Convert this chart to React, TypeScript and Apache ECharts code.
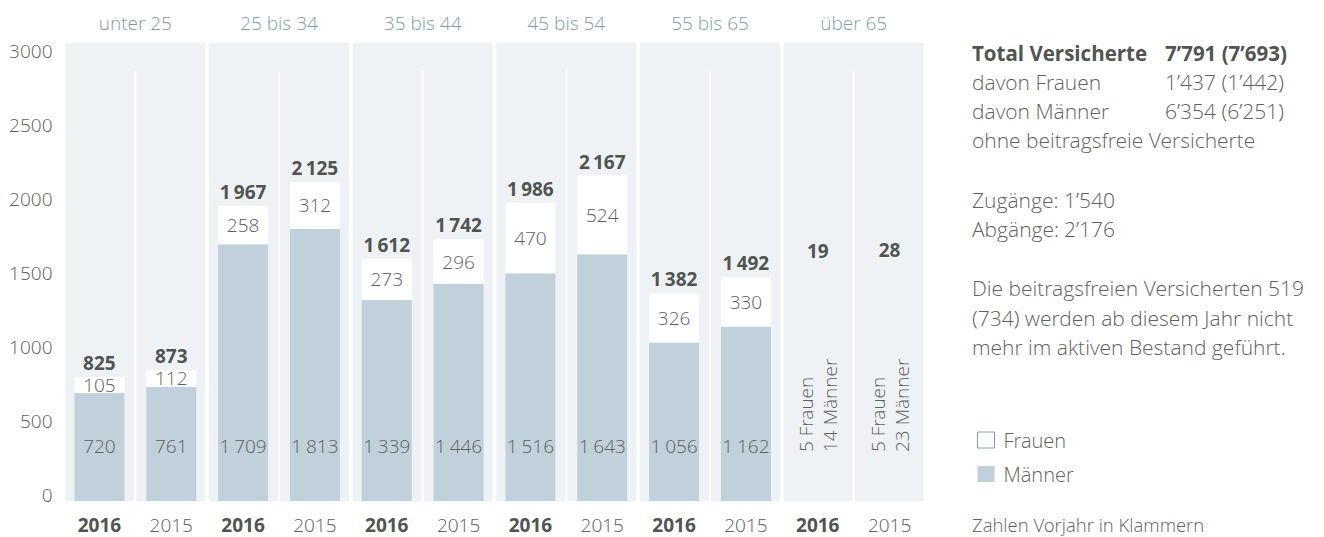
import { useEffect, useRef } from 'react';
import * as echarts from 'echarts';

// ---------- data ----------
const groups = ['unter 25', '25 bis 34', '35 bis 44', '45 bis 54', '55 bis 65', 'über 65'];
const years = ['2016', '2015'];
const men = [720, 761, 1709, 1813, 1339, 1446, 1516, 1643, 1056, 1162, 14, 23];
const women = [105, 112, 258, 312, 273, 296, 470, 524, 326, 330, 5, 5];
const totals = [825, 873, 1967, 2125, 1612, 1742, 1986, 2167, 1382, 1492, 19, 28];
const yTicks = [0, 500, 1000, 1500, 2000, 2500, 3000];
const annotatedGroup = 'über 65';

const summaryRows = [
  ['Total Versicherte', '7’791 (7’693)'],
  ['davon Frauen', '1’437 (1’442)'],
  ['davon Männer', '6’354 (6’251)'],
];
const summaryNote = 'ohne beitragsfreie Versicherte';
const flowRows = [
  ['Zugänge:', '1’540'],
  ['Abgänge:', '2’176'],
];
const noteLines = [
  'Die beitragsfreien Versicherten 519',
  '(734) werden ab diesem Jahr nicht',
  'mehr im aktiven Bestand geführt.',
];
const footer = 'Zahlen Vorjahr in Klammern';

// ---------- style ----------
const LIGHT = '"Open Sans Light", "Open Sans", "Noto Sans", sans-serif';
const BOLDF = '"Open Sans", "Noto Sans", sans-serif';
const TEXT = '#5d625d';
const BOLD = '#4f554f';
const TITLE = '#7b9cb0';
const MEN_COLOR = '#c0d1db';
const PANEL = '#eef2f4';
const AXIS_MAX = 3050;
const DIVIDER_TOP = 2870;

const categories = groups.flatMap((g) => years.map((y) => `${g}|${y}`));
const isAnnotated = (i: number) => categories[i].split('|')[0] === annotatedGroup;
const fmt = (v: number) => {
  const s = String(v);
  return s.length > 3 ? s.slice(0, s.length - 3) + '\u2009' + s.slice(s.length - 3) : s;
};

function buildOption() {
  const menData = men.map((v, i) =>
    isAnnotated(i)
      ? {
          value: v,
          itemStyle: { color: 'rgba(0,0,0,0)' },
          label: {
            rotate: 90,
            align: 'left',
            verticalAlign: 'middle',
            distance: 49,
            lineHeight: 24,
          },
        }
      : v
  );
  const womenData = women.map((v, i) =>
    isAnnotated(i)
      ? { value: v, itemStyle: { color: 'rgba(0,0,0,0)' }, label: { show: false } }
      : v
  );
  const totalData = totals.map((_, i) =>
    isAnnotated(i) ? { value: 0, label: { offset: [0, -233] } } : 0
  );

  const graphics: any[] = [];
  const X0 = 972;
  const X1 = 1165;
  const txt = (text: string, x: number, y: number, bold = false, size = 21) => ({
    type: 'text',
    x,
    y,
    silent: true,
    style: {
      text,
      fontFamily: bold ? BOLDF : LIGHT,
      fontSize: size,
      fontWeight: bold ? 'bold' : 300,
      fill: bold ? BOLD : TEXT,
      verticalAlign: 'middle',
    },
  });
  summaryRows.forEach((r, i) => {
    graphics.push(txt(r[0], X0, 53 + i * 29, i === 0, i === 0 ? 20.5 : 21));
    graphics.push(txt(r[1], X1, 53 + i * 29, i === 0, i === 0 ? 20.5 : 21));
  });
  graphics.push(txt(summaryNote, X0, 53 + 3 * 29));
  flowRows.forEach((r, i) => {
    graphics.push(txt(r[0], X0, 200 + i * 29));
    graphics.push(txt(r[1], 1064, 200 + i * 29));
  });
  noteLines.forEach((l, i) => graphics.push(txt(l, X0, 288 + i * 29.5)));
  graphics.push(txt(footer, X0, 524, false, 18.5));

  return {
    animation: false,
    backgroundColor: '#ffffff',
    textStyle: { fontFamily: LIGHT },
    grid: { left: 63.5, right: 398.5, top: 43, bottom: 36, containLabel: false },
    legend: {
      orient: 'vertical',
      left: 972,
      top: 425,
      itemWidth: 17,
      itemHeight: 16,
      itemGap: 14,
      icon: 'rect',
      selectedMode: false,
      textStyle: {
        fontFamily: LIGHT,
        fontSize: 20,
        fontWeight: 300,
        color: TEXT,
        lineHeight: 20,
        padding: [0, 0, 0, 4],
      },
      data: [
        { name: 'Frauen', itemStyle: { color: '#ffffff', borderColor: '#7e9db0', borderWidth: 1 } },
        { name: 'Männer' },
      ],
    },
    xAxis: [
      {
        type: 'category',
        data: categories,
        position: 'bottom',
        axisLine: { show: false },
        axisTick: { show: false },
        splitLine: { show: false },
        axisLabel: {
          interval: 0,
          margin: 14,
          formatter: (v: string) => {
            const y = v.split('|')[1];
            return y === years[0] ? `{b|${y}}` : `{r|${y}}`;
          },
          rich: {
            b: { fontFamily: BOLDF, fontSize: 19, fontWeight: 'bold', color: BOLD },
            r: { fontFamily: LIGHT, fontSize: 19, fontWeight: 300, color: TEXT },
          },
        },
      },
      {
        type: 'category',
        data: groups,
        position: 'top',
        axisLine: { show: false },
        axisTick: { show: false },
        splitLine: { show: false },
        axisLabel: {
          interval: 0,
          margin: 11,
          fontFamily: LIGHT,
          fontSize: 19,
          fontWeight: 300,
          color: TITLE,
        },
      },
    ],
    yAxis: [
      {
        type: 'value',
        min: 0,
        max: AXIS_MAX,
        show: false,
        splitLine: { show: false },
      },
      {
        type: 'value',
        min: -40,
        max: 3054,
        position: 'left',
        axisLine: { show: false },
        axisTick: { show: false },
        splitLine: { show: false },
        axisLabel: {
          customValues: yTicks,
          formatter: (v: number) => String(v),
          margin: 11,
          fontFamily: LIGHT,
          fontSize: 19,
          fontWeight: 300,
          color: TEXT,
        },
      },
    ],
    graphic: graphics,
    series: [
      {
        name: 'panel',
        type: 'bar',
        xAxisIndex: 1,
        yAxisIndex: 0,
        barWidth: 140,
        silent: true,
        z: 1,
        itemStyle: { color: PANEL },
        data: groups.map(() => AXIS_MAX),
      },
      {
        name: 'divider',
        type: 'custom',
        xAxisIndex: 1,
        yAxisIndex: 0,
        silent: true,
        z: 3,
        encode: { x: 0, y: 1 },
        data: groups.map((_, i) => [i, DIVIDER_TOP]),
        renderItem: (_p: any, api: any) => {
          const idx = api.value(0);
          const bottom = api.coord([idx, 0]);
          const top = api.coord([idx, api.value(1)]);
          return {
            type: 'line',
            shape: { x1: bottom[0], y1: top[1], x2: bottom[0], y2: bottom[1] },
            style: { stroke: '#ffffff', lineWidth: 2 },
          };
        },
      },
      {
        name: 'Männer',
        type: 'bar',
        stack: 'total',
        xAxisIndex: 0,
        yAxisIndex: 0,
        barWidth: 50,
        z: 4,
        itemStyle: { color: MEN_COLOR },
        label: {
          show: true,
          position: 'insideBottom',
          distance: 45,
          lineHeight: 20,
          fontFamily: LIGHT,
          fontSize: 19,
          fontWeight: 300,
          color: TEXT,
          formatter: (p: any) =>
            isAnnotated(p.dataIndex)
              ? `${women[p.dataIndex]} Frauen\n${men[p.dataIndex]} Männer`
              : fmt(men[p.dataIndex]),
        },
        data: menData,
      },
      {
        name: 'Frauen',
        type: 'bar',
        stack: 'total',
        xAxisIndex: 0,
        yAxisIndex: 0,
        barWidth: 50,
        z: 4,
        itemStyle: { color: '#ffffff' },
        label: {
          show: true,
          position: 'inside',
          lineHeight: 18,
          fontFamily: LIGHT,
          fontSize: 19,
          fontWeight: 300,
          color: TEXT,
          formatter: (p: any) => fmt(women[p.dataIndex]),
        },
        data: womenData,
      },
      {
        name: 'Total',
        type: 'bar',
        stack: 'total',
        xAxisIndex: 0,
        yAxisIndex: 0,
        barWidth: 50,
        z: 4,
        itemStyle: { color: 'rgba(0,0,0,0)' },
        label: {
          show: true,
          position: 'top',
          distance: 5,
          lineHeight: 18,
          fontFamily: BOLDF,
          fontSize: 19,
          fontWeight: 'bold',
          color: BOLD,
          formatter: (p: any) => fmt(totals[p.dataIndex]),
        },
        data: totalData,
      },
    ],
  };
}

export default function App() {
  const ref = useRef<HTMLDivElement>(null);
  useEffect(() => {
    if (!ref.current) return;
    const chart = echarts.init(ref.current, null, { renderer: 'svg' });
    chart.setOption(buildOption() as any);
    return () => chart.dispose();
  }, []);
  return (
    <div
      ref={ref}
      style={{ position: 'fixed', left: 0, top: 0, width: 1324, height: 537, background: '#fff' }}
    />
  );
}
